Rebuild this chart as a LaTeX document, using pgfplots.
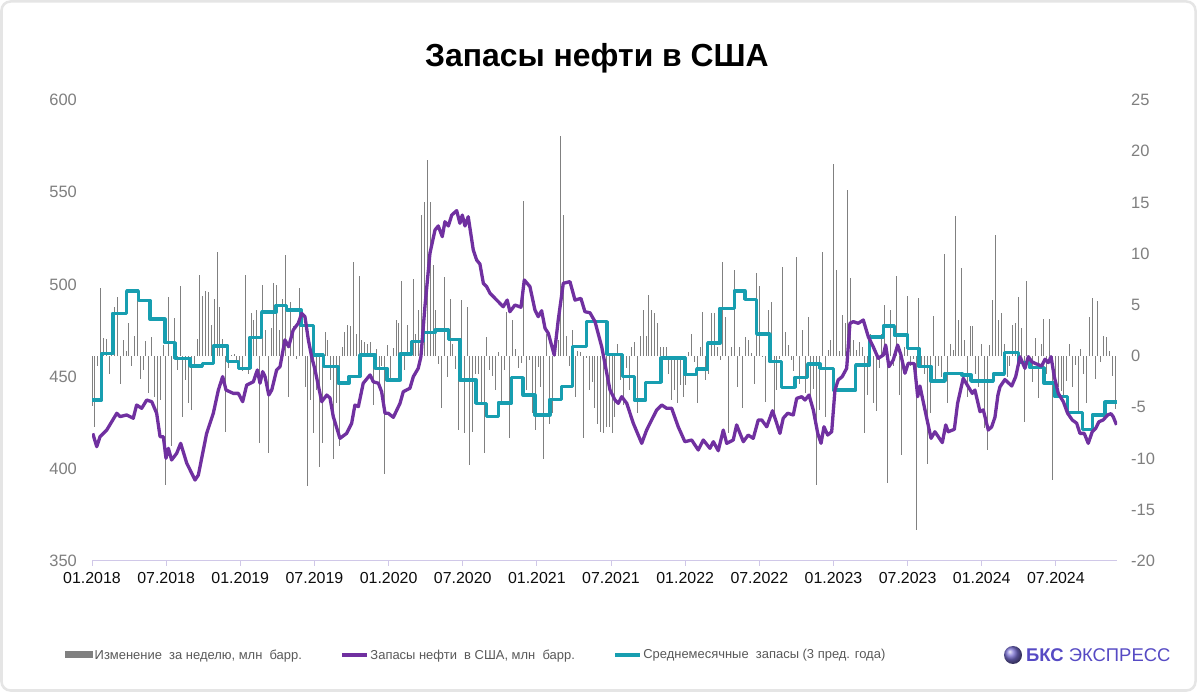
\documentclass[border=0pt]{standalone}
\usepackage{fontspec}
\setmainfont{Liberation Sans}
\usepackage{pgfplots}
\usepackage{pgfplotstable}
\pgfplotsset{compat=1.18}
\definecolor{purpcol}{RGB}{112,48,160}
\definecolor{tealcol}{RGB}{23,158,176}
\definecolor{barcol}{RGB}{128,128,128}
\definecolor{lavcol}{RGB}{208,200,232}
\definecolor{lblgrey}{RGB}{127,127,127}
\definecolor{leggrey}{RGB}{89,89,89}
\definecolor{logocol}{RGB}{86,74,196}

% weekly change, mln bbl, one value per week from 01.2018
\pgfplotstableread[row sep=\\]{v\\
-4.9\\ -6.9\\ -1\\ 6.6\\ 1.8\\ 1.7\\ -1.7\\ 2.2\\ 4.8\\ 5.8\\
-2.7\\ 1.6\\ 0.5\\ 3.2\\ -1\\ 2\\ 6.4\\ -2.2\\ -1.4\\ 1.5\\
-3.6\\ 1.9\\ -4\\ -6.6\\ -4.3\\ 1.1\\ -12.6\\ 5.8\\ -8.8\\ 3.7\\
-1.4\\ 6.8\\ -5.9\\ -2.3\\ -4.6\\ -5.3\\ -1\\ 1.7\\ 7.9\\ 5.9\\
6.4\\ 6.3\\ 3\\ 5.6\\ 10.2\\ 4.8\\ 1.7\\ -7.4\\ -1.2\\ 0.1\\
0.2\\ -0.5\\ -1\\ -1.5\\ 7.9\\ -1.7\\ 4.2\\ 3.5\\ 4.5\\ -8.5\\
6.9\\ 2.5\\ -9.5\\ 2.7\\ 7.1\\ 6.9\\ 2.5\\ 5.6\\ 9.9\\ -4\\
5.3\\ 2.9\\ -0.3\\ 6.6\\ 4.5\\ -3\\ -12.7\\ -4.3\\ -7.5\\ -3.3\\
-10.8\\ -8.5\\ 2.4\\ 1.6\\ -2.3\\ -10\\ -4.6\\ -8.8\\ 0.9\\ 2.4\\
3\\ 2.9\\ 9.2\\ 2.2\\ 7.8\\ 1.6\\ 1.4\\ 1.2\\ 1.4\\ -4.8\\
0.7\\ -3.3\\ -1\\ -11.5\\ 1.1\\ -2.3\\ 0.8\\ 3.5\\ 3.2\\ 7.3\\
-1.4\\ 3\\ 0.5\\ 7.5\\ 2.2\\ 4.5\\ 13.8\\ 15\\ 19.1\\ 15\\
8.9\\ 4.5\\ -0.8\\ -5.1\\ 7.7\\ -2\\ 5.6\\ 1.2\\ -1.3\\ -7.2\\
5.5\\ -7.5\\ 4.8\\ -10.6\\ -7.4\\ -1.7\\ -1.7\\ -4.5\\ -9.5\\ 1.9\\
-1.4\\ -1.9\\ -3.3\\ 0.4\\ -4.5\\ -1.4\\ 4.3\\ -8\\ 3.5\\ 0.7\\
-1.2\\ -0.7\\ 15.1\\ -3.3\\ -0.4\\ -5.6\\ -7.2\\ -1.1\\ -3\\ -10\\
2.2\\ -6.6\\ -5.6\\ 1.9\\ 1.6\\ 21.5\\ 13.8\\ 2\\ -1\\ 2.5\\
-4\\ 0.5\\ 0.4\\ -8\\ -0.2\\ -3.3\\ -2.5\\ -5.1\\ -6.6\\ -7.4\\
-7.5\\ -6.9\\ -6.9\\ -7.5\\ -5.9\\ 1.2\\ -2.3\\ -4.8\\ -1.2\\ -3.3\\
0.9\\ 1.4\\ -5.6\\ 2\\ 4.5\\ 2\\ 6\\ 4.5\\ 4.2\\ 3.2\\
0.9\\ 0.9\\ 0.9\\ -1.7\\ -4.3\\ -3.3\\ -4.6\\ -2.8\\ -4\\ -2.8\\
0.4\\ 2.2\\ -0.6\\ -4.6\\ 0.9\\ 4.3\\ -2.3\\ -1.7\\ 4.2\\ 4.2\\
0.9\\ -0.4\\ 9.2\\ 3.8\\ -7.5\\ 0.9\\ 8.4\\ -3\\ 0.9\\ -5.1\\
1.9\\ 1.6\\ 0.3\\ -2.7\\ 8.1\\ 6.8\\ -0.1\\ -4.5\\ 4.5\\ 5.3\\
-6\\ -3.3\\ -0.3\\ 8.7\\ 2.4\\ 1.1\\ -0.4\\ -1.5\\ 9.7\\ -2.7\\
2.5\\ -3.6\\ 3.8\\ -3.8\\ -3.2\\ -12.6\\ -5.3\\ 10.2\\ -5.9\\ 0.6\\
1.6\\ 18.8\\ 8.4\\ 0.5\\ 4\\ 3.2\\ 16.2\\ 7.6\\ 1.6\\ 0.6\\
1.4\\ 0.9\\ -7.5\\ -3.8\\ 2.2\\ -4.6\\ -5.4\\ -1.2\\ 2.2\\ 5\\
-12.4\\ 4.5\\ -1\\ 7.8\\ -3.8\\ -9.7\\ 0.9\\ 5.9\\ -1\\ -0.3\\
-17\\ 5.7\\ -1\\ -1.7\\ -10.5\\ -5.6\\ 3.9\\ -2.2\\ -1\\ -2\\
10\\ -4.6\\ 1.2\\ 0.6\\ 13.7\\ 3.5\\ 8.6\\ 1.6\\ -4\\ 2.9\\
2.9\\ -1.7\\ -3\\ 1.2\\ -7\\ -9.2\\ 1.1\\ 5.5\\ 11.8\\ 3.5\\
4.2\\ 1.2\\ -2\\ -1\\ 3\\ 3.2\\ 5.8\\ 2.7\\ -6.4\\ 7.3\\
-0.7\\ -2.5\\ 1.8\\ -4.1\\ 1.2\\ 3.6\\ -1.7\\ 3.6\\ -12.1\\ -1.9\\
-3\\ -3.4\\ -4\\ -2.4\\ 1.2\\ -3\\ -0.9\\ -5.6\\ 0.7\\ -1.7\\
-4.6\\ 3.8\\ 5.7\\ -2.2\\ 5.4\\ -0.6\\ 2\\ 1.9\\ 0.5\\ -1.9\\ -5.2\\
}\bardata

% US crude stocks, mln bbl (x = years since 01.2018)
\pgfplotstableread{
t v
0.005 419.2
0.032 412.0
0.054 417.4
0.099 421.0
0.167 430.1
0.189 428.3
0.234 429.2
0.278 427.4
0.301 434.6
0.335 432.8
0.369 437.3
0.403 436.4
0.436 430.1
0.459 417.4
0.481 417.4
0.499 405.7
0.515 411.1
0.537 404.8
0.571 408.4
0.598 413.8
0.639 403.0
0.695 393.9
0.717 396.6
0.773 419.2
0.818 430.1
0.852 442.7
0.881 450.0
0.904 442.7
0.953 440.9
0.987 440.9
1.016 436.4
1.043 445.4
1.088 447.2
1.115 453.6
1.133 446.4
1.151 452.7
1.167 450.0
1.192 440.0
1.212 442.7
1.245 453.6
1.268 455.4
1.301 469.9
1.326 466.2
1.357 475.3
1.391 478.9
1.414 484.3
1.436 482.5
1.459 469.9
1.481 460.8
1.504 453.6
1.549 436.4
1.583 440.0
1.605 438.4
1.627 428.3
1.672 416.5
1.717 419.2
1.751 424.7
1.773 434.6
1.796 433.7
1.829 446.4
1.875 450.9
1.897 447.2
1.931 446.4
1.953 441.8
1.976 430.1
1.998 430.1
2.032 427.9
2.077 435.5
2.099 441.8
2.144 443.7
2.167 450.0
2.200 454.5
2.218 460.8
2.245 487.9
2.279 516.9
2.313 529.5
2.335 531.7
2.362 525.9
2.380 534.0
2.403 531.7
2.426 537.6
2.459 540.0
2.481 533.1
2.497 537.6
2.515 531.7
2.537 536.7
2.571 518.7
2.594 513.2
2.616 511.0
2.639 500.6
2.661 498.8
2.684 495.2
2.729 491.5
2.773 487.9
2.800 491.5
2.818 485.2
2.852 488.8
2.893 487.6
2.915 502.4
2.953 498.8
2.987 486.1
3.009 482.5
3.032 485.7
3.055 476.2
3.077 473.5
3.117 461.7
3.144 480.7
3.178 500.6
3.223 501.5
3.257 491.5
3.297 492.4
3.324 485.2
3.358 484.6
3.392 479.8
3.437 466.2
3.493 442.7
3.527 437.3
3.549 435.5
3.572 439.1
3.606 435.5
3.650 424.7
3.707 413.8
3.740 421.0
3.774 426.5
3.808 431.9
3.842 434.6
3.875 432.8
3.909 432.8
3.953 422.8
3.998 414.7
4.044 415.6
4.088 410.2
4.122 415.6
4.167 411.1
4.190 414.7
4.223 409.8
4.257 421.0
4.280 413.8
4.324 415.6
4.347 423.8
4.392 414.7
4.425 418.3
4.459 416.5
4.493 426.5
4.516 426.5
4.550 422.8
4.589 431.5
4.617 424.7
4.639 419.2
4.661 427.4
4.691 430.1
4.729 429.2
4.752 438.2
4.786 439.1
4.808 437.3
4.835 440.0
4.864 431.9
4.894 419.2
4.916 413.8
4.936 422.8
4.961 418.3
4.988 420.1
5.010 442.7
5.032 448.2
5.059 450.0
5.089 454.5
5.111 478.9
5.134 479.8
5.167 478.9
5.201 480.7
5.235 471.6
5.268 466.2
5.302 459.9
5.336 461.7
5.352 467.1
5.374 455.4
5.403 459.0
5.433 467.1
5.455 461.7
5.482 451.8
5.504 457.2
5.545 457.0
5.568 439.1
5.583 444.9
5.617 431.9
5.658 416.5
5.684 420.1
5.734 414.2
5.757 423.8
5.774 420.1
5.815 421.4
5.837 435.5
5.875 449.1
5.909 444.5
5.936 440.9
5.954 442.7
5.988 431.0
6.010 431.9
6.044 421.0
6.067 422.8
6.089 428.0
6.109 440.0
6.123 444.5
6.156 448.4
6.202 444.9
6.229 450.0
6.258 460.8
6.291 454.5
6.314 460.8
6.337 458.1
6.359 457.2
6.404 455.7
6.426 459.4
6.449 457.6
6.467 460.8
6.489 450.0
6.516 440.9
6.550 436.4
6.579 430.1
6.610 426.5
6.640 424.7
6.662 419.2
6.691 419.2
6.718 413.8
6.745 420.1
6.768 421.9
6.790 425.5
6.819 426.5
6.849 429.2
6.871 429.9
6.886 428.3
6.909 423.8
}\stockdata

% monthly average stocks of previous 3 years (step values)
\pgfplotstableread{
t v
0.000 437.3
0.065 462.6
0.140 484.3
0.234 496.4
0.312 491.2
0.391 481.1
0.492 468.4
0.560 459.9
0.661 455.7
0.744 457.2
0.818 466.6
0.915 458.1
0.989 454.5
1.065 471.3
1.144 484.9
1.241 488.5
1.313 486.1
1.409 477.6
1.492 461.7
1.560 455.4
1.661 446.4
1.733 450.0
1.807 461.7
1.908 454.5
1.989 448.2
2.077 462.3
2.156 468.9
2.234 473.8
2.313 475.3
2.403 470.2
2.481 448.2
2.589 435.5
2.661 428.3
2.740 435.8
2.830 449.4
2.908 439.9
2.987 429.2
3.088 437.7
3.167 444.5
3.239 466.2
3.336 479.8
3.473 462.1
3.576 450.0
3.657 437.3
3.734 446.9
3.837 460.0
3.999 451.2
4.078 454.1
4.152 468.1
4.235 487.0
4.331 496.4
4.403 491.9
4.482 473.1
4.572 458.1
4.651 444.2
4.740 449.6
4.826 456.8
4.909 454.5
4.999 442.7
5.150 456.3
5.244 471.6
5.336 477.4
5.410 472.6
5.500 465.3
5.577 455.4
5.658 447.6
5.752 451.8
5.867 450.9
5.927 447.6
6.078 451.4
6.152 463.0
6.246 457.6
6.325 454.8
6.421 446.4
6.494 439.1
6.579 430.4
6.678 421.4
6.745 429.2
6.831 436.1
6.909 436.1
}\avgdata

\begin{document}
\begin{tikzpicture}
\useasboundingbox (0,0) rectangle (1197bp,692bp);
\fill[white] (0,0) rectangle (1197bp,692bp);
\draw[rounded corners=9bp, color=black!10, line width=2.5bp] (1.5bp,1.5bp) rectangle (1195.5bp,690.5bp);

\node[font=\fontsize{32}{38}\selectfont\bfseries, text=black] at (597bp,634bp) {Запасы нефти в США};

% right axis: weekly change (bars)
\begin{axis}[
  at={(92bp,131bp)}, anchor=south west,
  width=1025bp, height=461bp, scale only axis,
  xmin=0, xmax=360.7, ymin=-20, ymax=25,
  axis x line=none,
  axis y line*=right,
  y axis line style={draw=none},
  ytick={-20,-15,...,25},
  yticklabels={-20,-15,-10,-5,0,5,10,15,20,25},
  ytick style={draw=none},
  yticklabel style={font=\fontsize{16.5}{16.5}\selectfont, text=lblgrey, inner sep=0pt, xshift=14bp},
  legend columns=3,
  legend cell align=left,
  legend style={at={(-0.0263,-0.2039)}, anchor=west, draw=none, fill=none,
    inner sep=0pt, font=\fontsize{13}{15}\selectfont, text=leggrey,
    /tikz/every even column/.append style={column sep=37bp},
    nodes={inner sep=1.5bp}},
]
\addplot[ycomb, draw=barcol, line width=1bp,
  legend image code/.code={\fill[barcol] (0bp,-3bp) rectangle (27bp,3bp);}]
  table[x expr=\coordindex, y=v] {\bardata};
\addlegendentry{Изменение\ \ за неделю, млн\ \ барр.}
\addlegendimage{legend image code/.code={\draw[line width=3.5bp, draw=purpcol] (0bp,0bp) -- (25bp,0bp);}}
\addlegendentry{Запасы нефти\ \ в США, млн\ \ барр.}
\addlegendimage{legend image code/.code={\draw[line width=3.5bp, draw=tealcol] (0bp,0bp) -- (25bp,0bp);}}
\addlegendentry{Среднемесячные\ \ запасы (3 пред. года)}
\end{axis}

% left axis: stocks
\begin{axis}[
  at={(92bp,131bp)}, anchor=south west,
  width=1025bp, height=461bp, scale only axis,
  xmin=0, xmax=6.912, ymin=350, ymax=600,
  axis x line*=bottom,
  axis y line*=left,
  y axis line style={draw=none},
  x axis line style={draw=lavcol, line width=1bp, -},
  ytick={350,400,...,600},
  yticklabels={350,400,450,500,550,600},
  ytick style={draw=none},
  yticklabel style={font=\fontsize{16.5}{16.5}\selectfont, text=lblgrey, inner sep=0pt, xshift=-10bp},
  xtick={0,0.5,...,6.5},
  xticklabels={01.2018,07.2018,01.2019,07.2019,01.2020,07.2020,01.2021,07.2021,01.2022,07.2022,01.2023,07.2023,01.2024,07.2024},
  xtick style={draw=lavcol, line width=1bp},
  tick align=outside,
  major tick length=5bp,
  xticklabel style={font=\fontsize{16}{16}\selectfont, text=black!95, inner sep=0pt, yshift=-6bp},
]
\addplot[const plot mark left, draw=tealcol, line width=3.5bp, line join=round] table[x=t, y=v] {\avgdata};
\addplot[draw=purpcol, line width=3.3bp, line join=round] table[x=t, y=v] {\stockdata};
\end{axis}

\shade[ball color=logocol!80] (1013bp,37bp) circle (9bp);
\node[anchor=west, inner sep=0pt, text=logocol, font=\fontsize{18.5}{20}\selectfont] at (1026bp,37bp) {\textbf{БКС} ЭКСПРЕСС};
\end{tikzpicture}
\end{document}
